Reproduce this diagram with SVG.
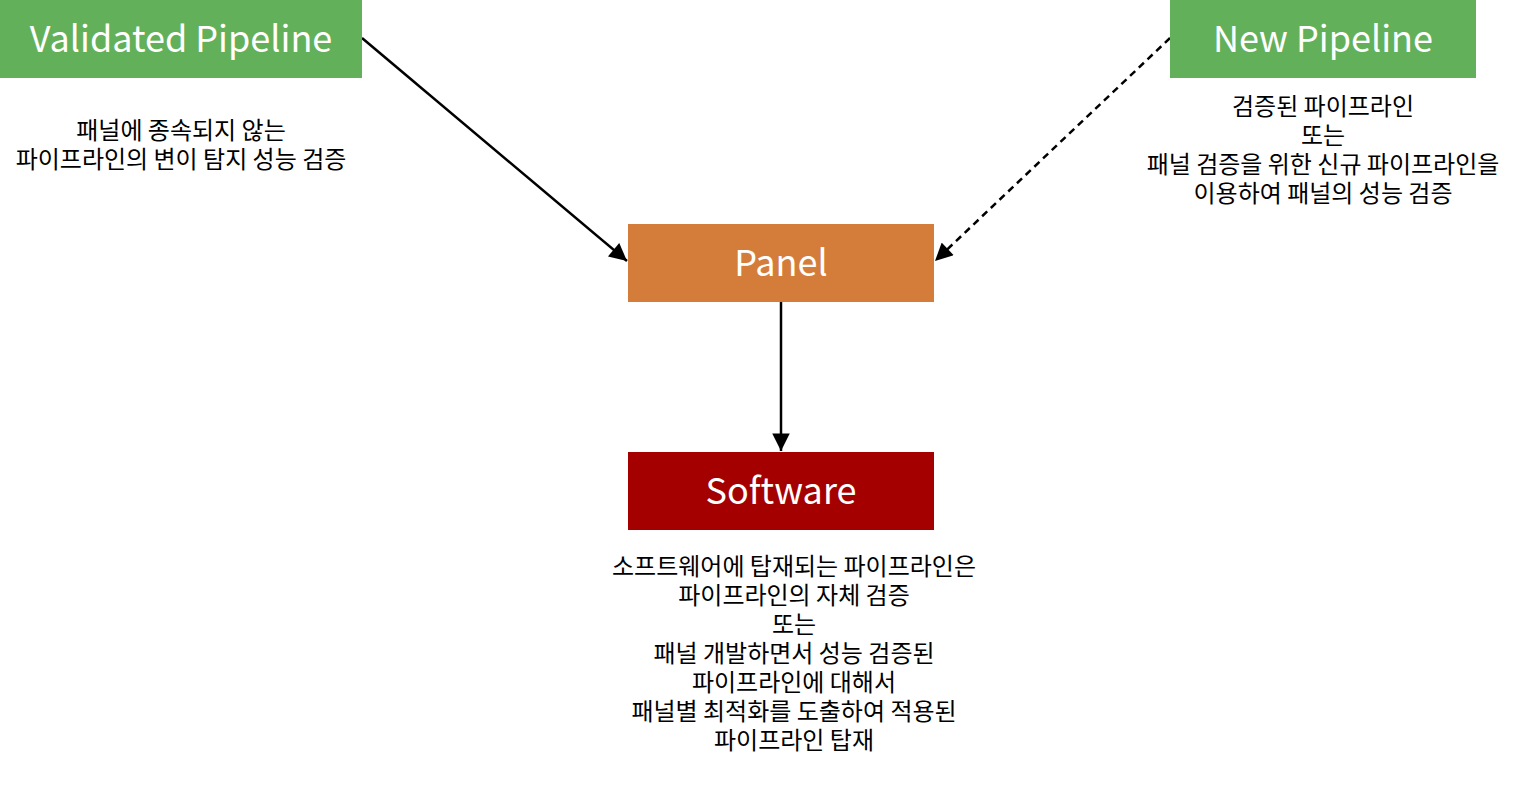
<svg xmlns="http://www.w3.org/2000/svg" width="1514" height="794" viewBox="0 0 1514 794">
<style>
.lbl{font-family:"Noto Sans CJK KR","Noto Sans",sans-serif;font-size:36px;fill:#ffffff;text-anchor:middle;dominant-baseline:central}
.note{font-family:"Noto Sans CJK KR","Noto Sans",sans-serif;font-size:24px;fill:#000000;text-anchor:middle}
.edge{fill:none;stroke:#000000;stroke-width:2.5}
</style>
<defs>
<marker id="arr" viewBox="0 0 10 10" refX="10" refY="5" markerWidth="7.5" markerHeight="7" orient="auto" markerUnits="strokeWidth">
<path d="M0,0 L10,5 L0,10 z" fill="#000000"/>
</marker>
</defs>
<rect width="1514" height="794" fill="#ffffff"/>
<g id="connectors">
<line class="edge" x1="362" y1="38" x2="627" y2="261" marker-end="url(#arr)"/>
<line class="edge" x1="1170" y1="38" x2="935" y2="261" stroke-dasharray="7,5" marker-end="url(#arr)"/>
<line class="edge" x1="781" y1="302" x2="781" y2="451" marker-end="url(#arr)"/>
</g>
<g id="validated">
<rect x="0" y="0" width="362" height="78" fill="#63b05a"/>
<text class="lbl" x="181" y="36">Validated Pipeline</text>
<text class="note"><tspan x="181" y="139">패널에 종속되지 않는</tspan><tspan x="181" dy="29">파이프라인의 변이 탐지 성능 검증</tspan></text>
</g>
<g id="new">
<rect x="1170" y="0" width="306" height="78" fill="#63b05a"/>
<text class="lbl" x="1323" y="36">New Pipeline</text>
<text class="note"><tspan x="1323" y="115">검증된 파이프라인</tspan><tspan x="1323" dy="29">또는</tspan><tspan x="1323" dy="29">패널 검증을 위한 신규 파이프라인을</tspan><tspan x="1323" dy="29">이용하여 패널의 성능 검증</tspan></text>
</g>
<g id="panel">
<rect x="628" y="224" width="306" height="78" fill="#d47d3a"/>
<text class="lbl" x="781" y="260">Panel</text>
</g>
<g id="software">
<rect x="628" y="452" width="306" height="78" fill="#a50000"/>
<text class="lbl" x="781" y="488">Software</text>
<text class="note"><tspan x="794" y="575">소프트웨어에 탑재되는 파이프라인은</tspan><tspan x="794" dy="29">파이프라인의 자체 검증</tspan><tspan x="794" dy="29">또는</tspan><tspan x="794" dy="29">패널 개발하면서 성능 검증된</tspan><tspan x="794" dy="29">파이프라인에 대해서</tspan><tspan x="794" dy="29">패널별 최적화를 도출하여 적용된</tspan><tspan x="794" dy="29">파이프라인 탑재</tspan></text>
</g>
</svg>
